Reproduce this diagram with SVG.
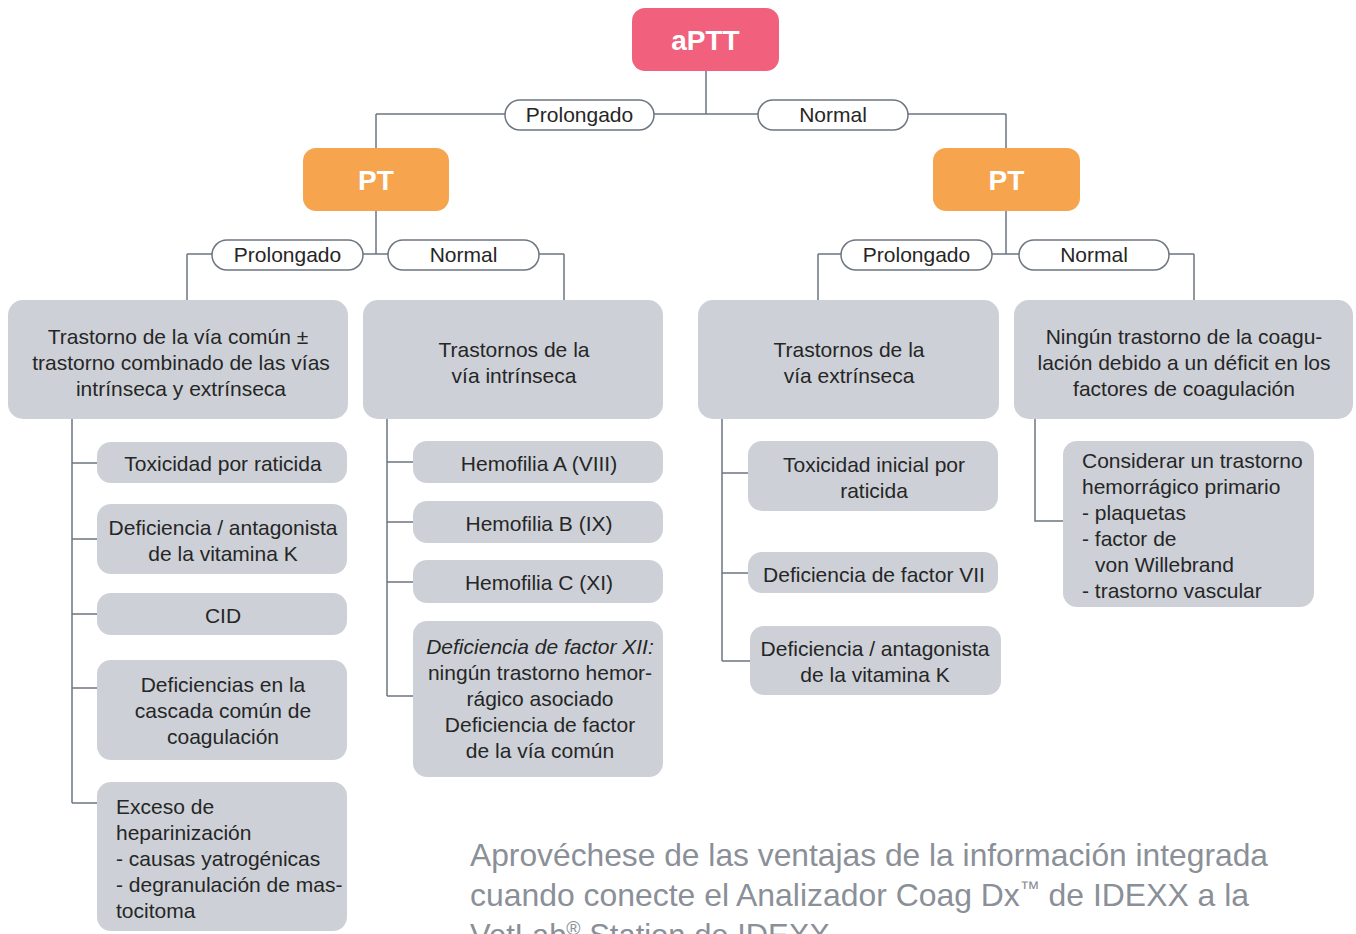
<svg xmlns="http://www.w3.org/2000/svg" width="1356" height="934" viewBox="0 0 1356 934">
<style>
text{font-family:"Liberation Sans",Arial,sans-serif;fill:#262626;}
.t{font-size:21px;text-anchor:middle;}
.tl{font-size:21px;}
.hd{font-size:28px;font-weight:bold;fill:#fff;text-anchor:middle;}
.pill{fill:#fff;stroke:#6e7681;stroke-width:1.5;}
.box{fill:#cdd1d7;}
.con{fill:none;stroke:#6e7681;stroke-width:1.5;}
.foot{font-size:32px;fill:#8a8f98;}
</style>
<g id="connectors">
<path class="con" d="M706 71V114M376 114H1006M376 114V148M1006 114V148"/>
<path class="con" d="M376 211V254M187 254H564M187 254V300M564 254V300"/>
<path class="con" d="M1006 211V254M818 254H1194M818 254V300M1194 254V300"/>
<path class="con" d="M72 419V803M72 463H97M72 539H97M72 614H97M72 688H97M72 803H97"/>
<path class="con" d="M387 419V696M387 462H413M387 522H413M387 582H413M387 696H413"/>
<path class="con" d="M722 419V661M722 473H748M722 573H748M722 661H750"/>
<path class="con" d="M1035 419V521H1063"/>
</g>
<g id="pills">
<g id="p1"><rect class="pill" x="505" y="100" width="149" height="30" rx="15"/><text class="t" x="579.5" y="122">Prolongado</text></g>
<g id="p2"><rect class="pill" x="758" y="100" width="150" height="30" rx="15"/><text class="t" x="833" y="122">Normal</text></g>
<g id="p3"><rect class="pill" x="212" y="240" width="151" height="30" rx="15"/><text class="t" x="287.5" y="262">Prolongado</text></g>
<g id="p4"><rect class="pill" x="388" y="240" width="151" height="30" rx="15"/><text class="t" x="463.5" y="262">Normal</text></g>
<g id="p5"><rect class="pill" x="841" y="240" width="151" height="30" rx="15"/><text class="t" x="916.5" y="262">Prolongado</text></g>
<g id="p6"><rect class="pill" x="1019" y="240" width="150" height="30" rx="15"/><text class="t" x="1094" y="262">Normal</text></g>
</g>
<g id="aptt"><rect x="632" y="8" width="147" height="63" rx="13" fill="#f1607c"/><text class="hd" x="705.5" y="50">aPTT</text></g>
<g id="pt-left"><rect x="303" y="148" width="146" height="63" rx="13" fill="#f7a44f"/><text class="hd" x="376" y="190">PT</text></g>
<g id="pt-right"><rect x="933" y="148" width="147" height="63" rx="13" fill="#f7a44f"/><text class="hd" x="1006.5" y="190">PT</text></g>

<g id="b1"><rect class="box" x="8" y="300" width="340" height="119" rx="15"/>
<text class="t" x="178" y="344">Trastorno de la vía común ±</text>
<text class="t" x="181" y="370">trastorno combinado de las vías</text>
<text class="t" x="181" y="396">intrínseca y extrínseca</text></g>
<g id="b2"><rect class="box" x="363" y="300" width="300" height="119" rx="15"/>
<text class="t" x="514" y="357">Trastornos de la</text>
<text class="t" x="514" y="383">vía intrínseca</text></g>
<g id="b3"><rect class="box" x="698" y="300" width="301" height="119" rx="15"/>
<text class="t" x="849" y="357">Trastornos de la</text>
<text class="t" x="849" y="383">vía extrínseca</text></g>
<g id="b4"><rect class="box" x="1014" y="300" width="339" height="119" rx="15"/>
<text class="t" x="1184" y="344">Ningún trastorno de la coagu-</text>
<text class="t" x="1184" y="370">lación debido a un déficit en los</text>
<text class="t" x="1184" y="396">factores de coagulación</text></g>

<g id="c1a"><rect class="box" x="97" y="442" width="250" height="41" rx="14"/><text class="t" x="223" y="471">Toxicidad por raticida</text></g>
<g id="c1b"><rect class="box" x="97" y="504" width="250" height="70" rx="14"/><text class="t" x="223" y="535">Deficiencia / antagonista</text><text class="t" x="223" y="561">de la vitamina K</text></g>
<g id="c1c"><rect class="box" x="97" y="593" width="250" height="42" rx="14"/><text class="t" x="223" y="623">CID</text></g>
<g id="c1d"><rect class="box" x="97" y="660" width="250" height="100" rx="14"/><text class="t" x="223" y="692">Deficiencias en la</text><text class="t" x="223" y="718">cascada común de</text><text class="t" x="223" y="744">coagulación</text></g>
<g id="c1e"><rect class="box" x="97" y="782" width="250" height="149" rx="14"/>
<text class="tl" x="116" y="814">Exceso de</text>
<text class="tl" x="116" y="840">heparinización</text>
<text class="tl" x="116" y="866">- causas yatrogénicas</text>
<text class="tl" x="116" y="892">- degranulación de mas-</text>
<text class="tl" x="116" y="918">tocitoma</text></g>

<g id="c2a"><rect class="box" x="413" y="441" width="250" height="42" rx="14"/><text class="t" x="539" y="471">Hemofilia A (VIII)</text></g>
<g id="c2b"><rect class="box" x="413" y="501" width="250" height="42" rx="14"/><text class="t" x="539" y="531">Hemofilia B (IX)</text></g>
<g id="c2c"><rect class="box" x="413" y="560" width="250" height="43" rx="14"/><text class="t" x="539" y="590">Hemofilia C (XI)</text></g>
<g id="c2d"><rect class="box" x="413" y="621" width="250" height="156" rx="14"/>
<text class="t" x="540" y="654" font-style="italic">Deficiencia de factor XII:</text>
<text class="t" x="540" y="680">ningún trastorno hemor-</text>
<text class="t" x="540" y="706">rágico asociado</text>
<text class="t" x="540" y="732">Deficiencia de factor</text>
<text class="t" x="540" y="758">de la vía común</text></g>

<g id="c3a"><rect class="box" x="748" y="441" width="250" height="70" rx="14"/><text class="t" x="874" y="472">Toxicidad inicial por</text><text class="t" x="874" y="498">raticida</text></g>
<g id="c3b"><rect class="box" x="748" y="552" width="250" height="41" rx="14"/><text class="t" x="874" y="582">Deficiencia de factor VII</text></g>
<g id="c3c"><rect class="box" x="750" y="626" width="251" height="69" rx="14"/><text class="t" x="875" y="656">Deficiencia / antagonista</text><text class="t" x="875" y="682">de la vitamina K</text></g>

<g id="c4a"><rect class="box" x="1063" y="441" width="251" height="166" rx="14"/>
<text class="tl" x="1082" y="468">Considerar un trastorno</text>
<text class="tl" x="1082" y="494">hemorrágico primario</text>
<text class="tl" x="1082" y="520">- plaquetas</text>
<text class="tl" x="1082" y="546">- factor de</text>
<text class="tl" x="1095" y="572">von Willebrand</text>
<text class="tl" x="1082" y="598">- trastorno vascular</text></g>

<g id="footer">
<text class="foot" x="470" y="866" textLength="798" lengthAdjust="spacingAndGlyphs">Aprovéchese de las ventajas de la información integrada</text>
<text class="foot" x="470" y="906" textLength="779" lengthAdjust="spacingAndGlyphs">cuando conecte el Analizador Coag Dx<tspan font-size="20" baseline-shift="super">™</tspan> de IDEXX a la</text>
<text class="foot" x="470" y="946" textLength="360" lengthAdjust="spacingAndGlyphs">VetLab<tspan font-size="20" baseline-shift="super">®</tspan> Station de IDEXX</text>
</g>
</svg>
